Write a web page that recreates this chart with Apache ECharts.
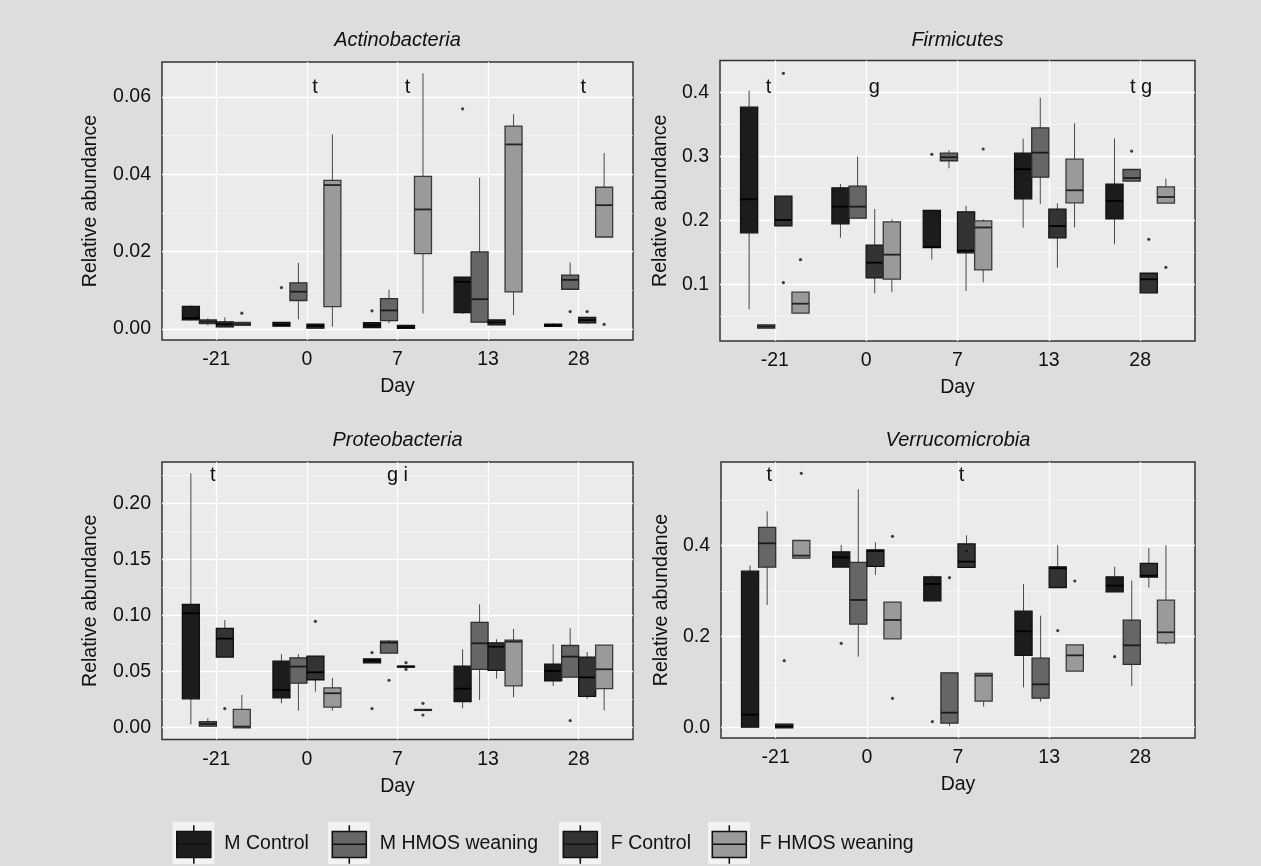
<!DOCTYPE html>
<html><head><meta charset="utf-8">
<script src="https://cdn.jsdelivr.net/npm/echarts@6/dist/echarts.min.js"></script>
<style>html,body{margin:0;padding:0;background:#dcdddf}#c{width:1261px;height:866px}</style>
</head><body><div id="c"></div>
<script>
// ---------------- DATA ----------------
const days = ['-21', '0', '7', '13', '28'];
const groups = ['M Control', 'M HMOS weaning', 'F Control', 'F HMOS weaning'];
const panelTitles = ['Actinobacteria', 'Firmicutes', 'Proteobacteria', 'Verrucomicrobia'];

// boxes: [dayIndex, lowWhisker, q1, median, q3, highWhisker]
const actMC = [[0,0.0022,0.0025,0.0028,0.0057,0.0061],[1,0.0006,0.00086,0.0011,0.0016,0.0016],[2,0.0005,0.0005,0.00095,0.0015,0.0015],[3,0.0039,0.0044,0.0122,0.0133,0.0133],[4,0.0008,0.0008,0.00095,0.0011,0.0015]];
const actMH = [[0,0.00095,0.00155,0.0019,0.0022,0.0028],[1,0.0025,0.0075,0.00965,0.0118,0.0171],[2,0.0015,0.0023,0.0048,0.0077,0.0102],[3,0.0019,0.0019,0.0077,0.0198,0.0391],[4,0.0104,0.0104,0.0127,0.0138,0.0172]];
const actFC = [[0,0.0005,0.0007,0.0012,0.0017,0.003],[1,0.0003,0.00034,0.00078,0.0011,0.0011],[2,0.0003,0.0003,0.0005,0.0008,0.001],[3,0.0012,0.0012,0.0017,0.0022,0.0022],[4,0.0013,0.0017,0.0023,0.0029,0.0029]];
const actFH = [[0,0.0011,0.0011,0.0013,0.00155,0.00155],[1,0.0006,0.0059,0.0372,0.0383,0.0503],[2,0.004,0.0196,0.0309,0.0393,0.0661],[3,0.0036,0.0097,0.0477,0.0523,0.0555],[4,0.0239,0.0239,0.032,0.0365,0.0455]];
// outliers: [dayIndex, value]
const actOutMC = [[1,0.0107],[2,0.0047],[3,0.0569]];
const actOutMH = [[4,0.0045]];
const actOutFC = [[4,0.0045]];
const actOutFH = [[0,0.0041],[4,0.0012]];

const firMC = [[0,0.0609,0.1812,0.2328,0.376,0.4026],[1,0.1729,0.1953,0.2213,0.2499,0.2567],[2,0.1385,0.1583,0.1583,0.2145,0.2145],[3,0.1885,0.2344,0.2797,0.3041,0.3277],[4,0.1625,0.2031,0.2302,0.2557,0.3277]];
const firMH = [[0,0.0323,0.0323,0.034,0.0358,0.038],[1,0.202,0.2041,0.2213,0.2526,0.2995],[2,0.2812,0.2938,0.2985,0.3041,0.3093],[3,0.2255,0.2682,0.3057,0.3437,0.3914],[4,0.262,0.262,0.2661,0.2786,0.2786]];
const firFC = [[0,0.1921,0.1921,0.2005,0.2369,0.2369],[1,0.086,0.1109,0.1338,0.1604,0.2177],[2,0.0895,0.15,0.1526,0.2124,0.2224],[3,0.1259,0.1734,0.1911,0.2166,0.2266],[4,0.0875,0.0875,0.1078,0.1165,0.1165]];
const firFH = [[0,0.0557,0.0557,0.0697,0.0869,0.0869],[1,0.0875,0.1088,0.1463,0.1969,0.2015],[2,0.1031,0.1234,0.1888,0.1984,0.2015],[3,0.189,0.2281,0.2469,0.2948,0.3516],[4,0.2276,0.2276,0.2364,0.2516,0.2651]];
const firOutMC = [[2,0.3031]];
const firOutMH = [[4,0.3082]];
const firOutFC = [[0,0.4297],[0,0.1026],[4,0.1703]];
const firOutFH = [[0,0.1385],[2,0.3114],[4,0.1266]];

const proMC = [[0,0.0027,0.0259,0.1018,0.1092,0.2268],[1,0.0214,0.0268,0.0333,0.0586,0.0652],[2,0.058,0.058,0.0595,0.0607,0.0607],[3,0.017,0.0235,0.0345,0.0542,0.0696],[4,0.0369,0.042,0.0503,0.056,0.0741]];
const proMH = [[0,0.0015,0.0015,0.003,0.0045,0.008],[1,0.0149,0.0399,0.0542,0.0616,0.0652],[2,0.0667,0.0667,0.0756,0.0765,0.078],[3,0.0244,0.0521,0.075,0.0932,0.1098],[4,0.0452,0.0452,0.0631,0.0726,0.0884]];
const proFC = [[0,0.0631,0.0631,0.0792,0.0878,0.0958],[1,0.0318,0.0429,0.0491,0.0631,0.0631],[2,0.0542,0.0542,0.0542,0.0542,0.0542],[3,0.0435,0.0512,0.072,0.075,0.0786],[4,0.0256,0.028,0.0446,0.0622,0.0673]];
const proFH = [[0,0.0,0.0,0.0006,0.0155,0.0289],[1,0.0149,0.0185,0.0304,0.0348,0.044],[2,0.0155,0.0155,0.0155,0.0155,0.0155],[3,0.0268,0.0375,0.0765,0.0774,0.0878],[4,0.015,0.035,0.0518,0.0729,0.0729]];
const proOutMC = [[2,0.0667],[2,0.0167]];
const proOutMH = [[2,0.042],[4,0.006]];
const proOutFC = [[0,0.0167],[1,0.0946],[2,0.0577],[2,0.0518]];
const proOutFH = [[2,0.0214],[2,0.011]];

const verMC = [[0,0.0015,0.0015,0.0278,0.3421,0.3553],[1,0.3531,0.3531,0.3736,0.3846,0.4007],[2,0.2791,0.2791,0.315,0.3297,0.3333],[3,0.0879,0.159,0.211,0.2542,0.315],[4,0.2989,0.2989,0.3114,0.3297,0.3531]];
const verMH = [[0,0.2689,0.3531,0.4044,0.4381,0.4747],[1,0.1553,0.2278,0.2799,0.3612,0.5231],[2,0.0029,0.0103,0.0322,0.1187,0.1187],[3,0.0564,0.0652,0.0945,0.1509,0.2454],[4,0.0908,0.1392,0.1802,0.2344,0.3223]];
const verFC = [[0,0.0,0.0,0.002,0.0059,0.0059],[1,0.3348,0.3546,0.3875,0.389,0.4066],[2,0.3524,0.3524,0.3641,0.4022,0.422],[3,0.3084,0.3084,0.3495,0.3516,0.4],[4,0.307,0.3311,0.3333,0.359,0.3941]];
const verFH = [[0,0.3729,0.3729,0.3773,0.4095,0.4095],[1,0.1956,0.1956,0.2359,0.274,0.274],[2,0.0454,0.0586,0.1136,0.1172,0.1172],[3,0.1245,0.1245,0.1582,0.1802,0.1802],[4,0.1817,0.1868,0.2088,0.2784,0.4]];
const verOutMC = [[1,0.1846],[2,0.0125],[4,0.1553]];
const verOutMH = [[2,0.3289]];
const verOutFC = [[0,0.1465],[2,0.3875],[3,0.2125]];
const verOutFH = [[0,0.5582],[1,0.4198],[1,0.0637],[3,0.3216]];

// significance letters: [x position (day index units), y value, text]
const actLetters = [[1.09,0.0625,'t'],[2.11,0.0625,'t'],[4.05,0.0625,'t']];
const firLetters = [[-0.07,0.4083,'t'],[1.09,0.4083,'g'],[4.01,0.4083,'t g']];
const proLetters = [[-0.04,0.2246,'t'],[2.0,0.2246,'g i']];
const verLetters = [[-0.07,0.5527,'t'],[2.04,0.5527,'t']];

// y axis ranges, ticks, labels
const actRange = [-0.00284, 0.069], actTicks = [0, 0.02, 0.04, 0.06], actMinor = [0.01, 0.03, 0.05], actTickLabels = ['0.00','0.02','0.04','0.06'];
const firRange = [0.0114, 0.4497], firTicks = [0.1, 0.2, 0.3, 0.4], firMinor = [0.05, 0.15, 0.25, 0.35], firTickLabels = ['0.1','0.2','0.3','0.4'];
const proRange = [-0.0109, 0.2369], proTicks = [0, 0.05, 0.1, 0.15, 0.2], proMinor = [0.025, 0.075, 0.125, 0.175, 0.225], proTickLabels = ['0.00','0.05','0.10','0.15','0.20'];
const verRange = [-0.0235, 0.5831], verTicks = [0, 0.2, 0.4], verMinor = [0.1, 0.3, 0.5], verTickLabels = ['0.0','0.2','0.4'];

// ---------------- STYLE / LAYOUT ----------------
const FONT = "'Liberation Sans', Arial, sans-serif";
const FS = 19.5;
const fills = ['#1c1c1c', '#666666', '#333333', '#9a9a9a'];
const strokes = ['#111111', '#2e2e2e', '#111111', '#3a3a3a'];
const medians = ['#000000', '#1a1a1a', '#000000', '#222222'];
const BOX_W = 0.1875;
const offsets = [-1.5, -0.5, 0.5, 1.5].map(k => k * BOX_W);
const grids = [
  {left: 162, top: 62, width: 471, height: 278},
  {left: 720, top: 60.5, width: 475, height: 280.5},
  {left: 162, top: 462, width: 471, height: 277.5},
  {left: 721, top: 462, width: 474, height: 276}
];
const titleTops = [30, 30, 430, 430];
const yNameGaps = [61, 49, 61, 49];

const panels = [
  {boxes: [actMC, actMH, actFC, actFH], outs: [actOutMC, actOutMH, actOutFC, actOutFH], letters: actLetters, range: actRange, ticks: actTicks, minor: actMinor, labels: actTickLabels},
  {boxes: [firMC, firMH, firFC, firFH], outs: [firOutMC, firOutMH, firOutFC, firOutFH], letters: firLetters, range: firRange, ticks: firTicks, minor: firMinor, labels: firTickLabels},
  {boxes: [proMC, proMH, proFC, proFH], outs: [proOutMC, proOutMH, proOutFC, proOutFH], letters: proLetters, range: proRange, ticks: proTicks, minor: proMinor, labels: proTickLabels},
  {boxes: [verMC, verMH, verFC, verFH], outs: [verOutMC, verOutMH, verOutFC, verOutFH], letters: verLetters, range: verRange, ticks: verTicks, minor: verMinor, labels: verTickLabels}
];

function boxRenderer(g) {
  return function (params, api) {
    const xv = api.value(0) + offsets[g];
    const lo = api.coord([xv, api.value(1)]);
    const q1 = api.coord([xv, api.value(2)]);
    const md = api.coord([xv, api.value(3)]);
    const q3 = api.coord([xv, api.value(4)]);
    const hi = api.coord([xv, api.value(5)]);
    const w = api.size([BOX_W, 0], [xv, 0])[0];
    const x = q1[0];
    const whisk = {stroke: '#4a4a4a', lineWidth: 1};
    return {
      type: 'group',
      children: [
        {type: 'line', shape: {x1: x, y1: hi[1], x2: x, y2: q3[1]}, style: whisk},
        {type: 'line', shape: {x1: x, y1: q1[1], x2: x, y2: lo[1]}, style: whisk},
        {type: 'rect', shape: {x: x - w / 2, y: q3[1] - 0.5, width: w, height: Math.max(q1[1] - q3[1], 0) + 1},
          style: {fill: fills[g], stroke: strokes[g], lineWidth: 1.3}},
        {type: 'line', shape: {x1: x - w / 2, y1: md[1], x2: x + w / 2, y2: md[1]}, style: {stroke: medians[g], lineWidth: 1.8}}
      ]
    };
  };
}

function letterRenderer(params, api) {
  const p = api.coord([api.value(0), api.value(1)]);
  return {
    type: 'text', x: p[0], y: p[1],
    style: {text: api.value(2), fill: '#111', fontSize: FS + 0.5, fontFamily: FONT, align: 'center', verticalAlign: 'middle'}
  };
}

const option = {
  backgroundColor: '#dcdddf',
  animation: false,
  title: [], grid: [], xAxis: [], yAxis: [], series: [], legend: [], graphic: []
};

panels.forEach((pn, i) => {
  const gb = grids[i];
  option.grid.push({left: gb.left, top: gb.top, width: gb.width, height: gb.height, show: true,
    backgroundColor: '#ebebeb', borderColor: '#333333', borderWidth: 1.5, containLabel: false});
  option.title.push({text: panelTitles[i], left: gb.left + gb.width / 2, textAlign: 'center', top: titleTops[i],
    padding: 0,
    textStyle: {fontFamily: FONT, fontSize: FS + 0.5, fontStyle: 'italic', fontWeight: 'normal', color: '#111'}});
  option.xAxis.push({type: 'value', gridIndex: i, min: -0.6, max: 4.6,
    name: 'Day', nameLocation: 'middle', nameGap: 37,
    nameTextStyle: {fontFamily: FONT, fontSize: FS, color: '#111'},
    axisLine: {show: false}, axisTick: {show: false, customValues: [0, 1, 2, 3, 4]},
    axisLabel: {customValues: [0, 1, 2, 3, 4], formatter: v => days[Math.round(v)], margin: 10,
      fontFamily: FONT, fontSize: FS, color: '#111'},
    splitLine: {show: true, lineStyle: {color: '#ffffff', width: 1.3}}
  });
  option.yAxis.push({type: 'value', gridIndex: i, min: pn.range[0], max: pn.range[1],
    name: 'Relative abundance', nameLocation: 'middle', nameGap: yNameGaps[i], nameRotate: 90,
    nameTextStyle: {fontFamily: FONT, fontSize: FS, color: '#111'},
    axisLine: {show: false}, axisTick: {show: false, customValues: pn.ticks},
    axisLabel: {customValues: pn.ticks, margin: 11, fontFamily: FONT, fontSize: FS, color: '#111',
      formatter: v => { const k = pn.ticks.findIndex(t => Math.abs(t - v) < 1e-9); return k >= 0 ? pn.labels[k] : ''; }},
    splitLine: {show: true, lineStyle: {color: '#ffffff', width: 1.3}}
  });
  // minor grid axis
  option.yAxis.push({type: 'value', gridIndex: i, min: pn.range[0], max: pn.range[1],
    axisLine: {show: false}, axisTick: {show: false, customValues: pn.minor},
    axisLabel: {show: false}, splitLine: {show: true, lineStyle: {color: '#f7f7f7', width: 0.7}}
  });
  const yIdx = option.yAxis.length - 2;
  pn.boxes.forEach((bx, g) => {
    option.series.push({type: 'custom', name: groups[g], xAxisIndex: i, yAxisIndex: yIdx,
      itemStyle: {color: fills[g]}, renderItem: boxRenderer(g), data: bx,
      encode: {x: 0, y: [1, 2, 3, 4, 5]}, z: 3});
  });
  pn.outs.forEach((os, g) => {
    option.series.push({type: 'scatter', xAxisIndex: i, yAxisIndex: yIdx, symbolSize: 3.2,
      itemStyle: {color: '#111'}, z: 4, silent: true,
      data: os.map(o => [o[0] + offsets[g], o[1]])});
  });
  option.series.push({type: 'custom', xAxisIndex: i, yAxisIndex: yIdx, renderItem: letterRenderer,
    data: pn.letters, encode: {x: 0, y: 1}, z: 5, silent: true});
});

// legend
const keyLeft = [172.5, 328, 559, 708];
const KEY_TOP = 822;
const iconPath = 'path://M0,0 M46,42 M20.5,2.5 L20.5,8.7 M3.5,8.7 L37.5,8.7 L37.5,34.7 L3.5,34.7 Z M3.5,21.5 L37.5,21.5 M20.5,34.7 L20.5,41';
groups.forEach((gname, g) => {
  option.graphic.push({type: 'rect', left: keyLeft[g], top: KEY_TOP, shape: {width: 42, height: 42},
    style: {fill: '#f2f2f2'}, z: 0, silent: true});
  option.legend.push({left: keyLeft[g], top: KEY_TOP, orient: 'horizontal', itemWidth: 46, itemHeight: 42,
    selectedMode: false, padding: 0,
    data: [{name: gname, icon: iconPath, itemStyle: {color: fills[g], borderColor: '#111', borderWidth: 1.6}}],
    textStyle: {fontFamily: FONT, fontSize: FS, color: '#111'}});
});

const chart = echarts.init(document.getElementById('c'), null, {renderer: 'canvas'});
chart.setOption(option);
</script></body></html>
